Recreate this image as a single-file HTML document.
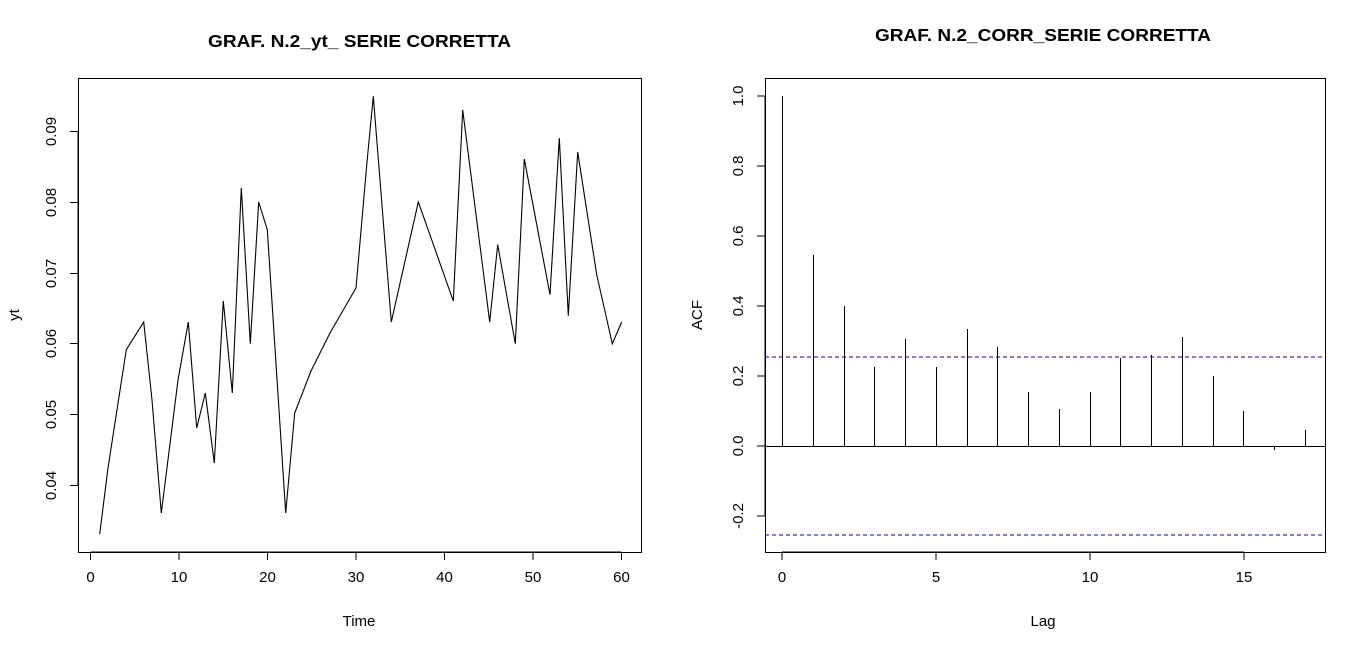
<!DOCTYPE html>
<html><head><style>body{margin:0;background:#fff}svg{display:block}text{font-family:"Liberation Sans",Arial,sans-serif;fill:#000}</style></head>
<body>
<svg width="1366" height="650" viewBox="0 0 1366 650" xmlns="http://www.w3.org/2000/svg">
<rect width="1366" height="650" fill="#fff"/>
<!-- LEFT -->
<text x="208" y="47" font-size="17.5" font-weight="bold" textLength="303" lengthAdjust="spacingAndGlyphs">GRAF. N.2_yt_ SERIE CORRETTA</text>
<rect x="78.5" y="78.5" width="563" height="474" fill="none" stroke="#000" stroke-width="1"/>
<g stroke="#000" stroke-width="1">
<line x1="90.5" y1="552" x2="621.5" y2="552"/>
<line x1="90.5" y1="552" x2="90.5" y2="560"/><line x1="179" y1="552" x2="179" y2="560"/><line x1="267.5" y1="552" x2="267.5" y2="560"/><line x1="356" y1="552" x2="356" y2="560"/><line x1="444.5" y1="552" x2="444.5" y2="560"/><line x1="533" y1="552" x2="533" y2="560"/><line x1="621.5" y1="552" x2="621.5" y2="560"/>
<line x1="78" y1="131.5" x2="78" y2="485.5"/>
<line x1="70" y1="131.5" x2="78" y2="131.5"/><line x1="70" y1="202.5" x2="78" y2="202.5"/><line x1="70" y1="273.5" x2="78" y2="273.5"/><line x1="70" y1="343.5" x2="78" y2="343.5"/><line x1="70" y1="414.5" x2="78" y2="414.5"/><line x1="70" y1="485.5" x2="78" y2="485.5"/>
</g>
<g font-size="15" text-anchor="middle">
<text x="90.5" y="582">0</text><text x="179" y="582">10</text><text x="267.5" y="582">20</text><text x="356" y="582">30</text><text x="444.5" y="582">40</text><text x="533" y="582">50</text><text x="621.5" y="582">60</text>
<text x="359" y="626">Time</text>
<text transform="translate(56,131.5) rotate(-90)">0.09</text>
<text transform="translate(56,202.5) rotate(-90)">0.08</text>
<text transform="translate(56,273.5) rotate(-90)">0.07</text>
<text transform="translate(56,343.5) rotate(-90)">0.06</text>
<text transform="translate(56,414.5) rotate(-90)">0.05</text>
<text transform="translate(56,485.5) rotate(-90)">0.04</text>
<text transform="translate(19,315) rotate(-90)">yt</text>
</g>
<polyline fill="none" stroke="#000" stroke-width="1.1" points="99.7,534 108,468 126.3,349.7 143.7,322 152,400 161.3,513 178,380 188.3,322 196.7,428 205.3,393 214.3,463 223.3,301 232.3,393 241.3,188 250.3,343.7 258.7,202 267.3,229.7 285.7,513 294.7,413 311,371 330,333 356,288 367,162 373.3,96.3 391.3,322 418.3,202 453.3,301 462.7,110 489.7,322 497.7,244.7 515.3,343.7 524.3,159 550,294.7 559.3,138 568.3,315.7 577.7,152 596.7,274.7 612.3,343.7 621.7,322"/>
<!-- RIGHT -->
<text x="875" y="41" font-size="17.5" font-weight="bold" textLength="336" lengthAdjust="spacingAndGlyphs">GRAF. N.2_CORR_SERIE CORRETTA</text>
<rect x="765.5" y="78.5" width="560" height="474" fill="none" stroke="#000" stroke-width="1"/>
<g stroke="#000" stroke-width="1">
<line x1="782" y1="552" x2="1244" y2="552"/>
<line x1="782" y1="552" x2="782" y2="560"/><line x1="936" y1="552" x2="936" y2="560"/><line x1="1090" y1="552" x2="1090" y2="560"/><line x1="1244" y1="552" x2="1244" y2="560"/>
<line x1="765" y1="96" x2="765" y2="516"/>
<line x1="757" y1="96" x2="765" y2="96"/><line x1="757" y1="166" x2="765" y2="166"/><line x1="757" y1="236" x2="765" y2="236"/><line x1="757" y1="306" x2="765" y2="306"/><line x1="757" y1="376" x2="765" y2="376"/><line x1="757" y1="446" x2="765" y2="446"/><line x1="757" y1="516" x2="765" y2="516"/>
<line x1="765" y1="446.5" x2="1325" y2="446.5"/>
</g>
<g font-size="15" text-anchor="middle">
<text x="782" y="582">0</text><text x="936" y="582">5</text><text x="1090" y="582">10</text><text x="1244" y="582">15</text>
<text x="1043" y="626">Lag</text>
<text transform="translate(743,96) rotate(-90)">1.0</text>
<text transform="translate(743,166) rotate(-90)">0.8</text>
<text transform="translate(743,236) rotate(-90)">0.6</text>
<text transform="translate(743,306) rotate(-90)">0.4</text>
<text transform="translate(743,376) rotate(-90)">0.2</text>
<text transform="translate(743,446) rotate(-90)">0.0</text>
<text transform="translate(743,516) rotate(-90)">-0.2</text>
<text transform="translate(702,315) rotate(-90)">ACF</text>
</g>
<g stroke="#000" stroke-width="1">
<line x1="782.5" y1="446" x2="782.5" y2="96"/>
<line x1="813.5" y1="446" x2="813.5" y2="255"/>
<line x1="844.5" y1="446" x2="844.5" y2="306"/>
<line x1="874.5" y1="446" x2="874.5" y2="367"/>
<line x1="905.5" y1="446" x2="905.5" y2="339"/>
<line x1="936.5" y1="446" x2="936.5" y2="367"/>
<line x1="967.5" y1="446" x2="967.5" y2="329"/>
<line x1="997.5" y1="446" x2="997.5" y2="347"/>
<line x1="1028.5" y1="446" x2="1028.5" y2="392"/>
<line x1="1059.5" y1="446" x2="1059.5" y2="409"/>
<line x1="1090.5" y1="446" x2="1090.5" y2="392"/>
<line x1="1120.5" y1="446" x2="1120.5" y2="358"/>
<line x1="1151.5" y1="446" x2="1151.5" y2="355"/>
<line x1="1182.5" y1="446" x2="1182.5" y2="337"/>
<line x1="1213.5" y1="446" x2="1213.5" y2="376"/>
<line x1="1243.5" y1="446" x2="1243.5" y2="411"/>
<line x1="1274.5" y1="446" x2="1274.5" y2="450"/>
<line x1="1305.5" y1="446" x2="1305.5" y2="430"/>
</g>
<g stroke="#0000aa" stroke-width="1" stroke-dasharray="4,3">
<line x1="765" y1="357" x2="1325" y2="357"/>
<line x1="765" y1="535" x2="1325" y2="535"/>
</g>
</svg>
</body></html>
